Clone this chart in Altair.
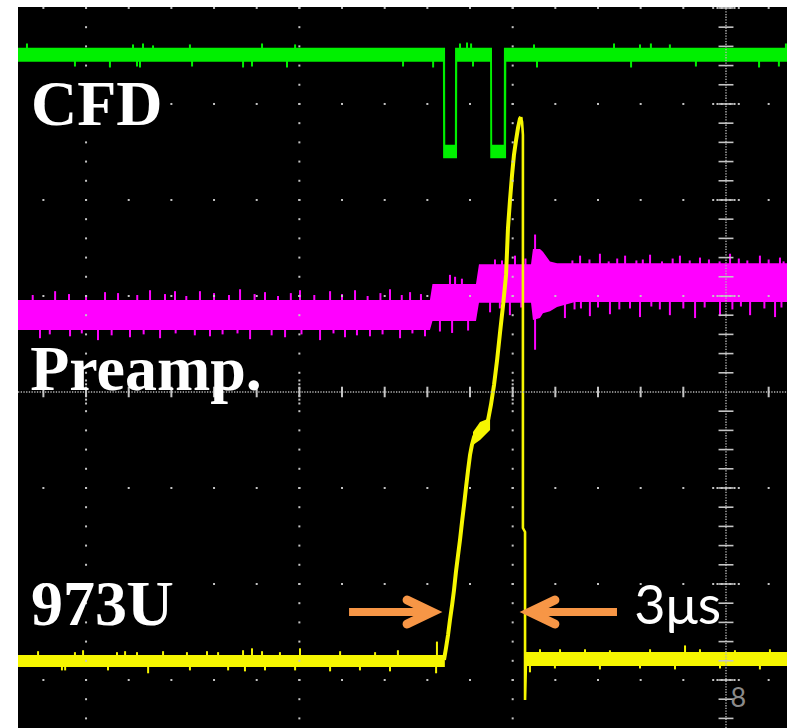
import altair as alt
import numpy as np
import pandas as pd

# ---------------- data: screen divisions (x from centre vertical graticule, y from centre horizontal) ----------
X_DOMAIN = [-3.319, 0.286]
Y_DOMAIN = [-3.5, 4.01]

# CFD (green) trace: envelope of the noisy trace
cfd_x   = [-3.32, -1.327, -1.326, -1.317, -1.316, -1.271, -1.270, -1.261, -1.260,
           -1.106, -1.105, -1.097, -1.096, -1.042, -1.041, -1.031, -1.030, 0.29]
cfd_top = [3.585, 3.585, 3.585, 3.585, 2.575, 2.575, 3.585, 3.585, 3.585,
           3.585, 3.585, 3.585, 2.575, 2.575, 3.585, 3.585, 3.585, 3.585]
cfd_bot = [3.44, 3.44, 2.435, 2.435, 2.435, 2.435, 2.435, 2.435, 3.44,
           3.44, 2.435, 2.435, 2.435, 2.435, 2.435, 2.435, 3.44, 3.44]
cfd_up_x   = [-3.277, -2.780, -2.733, -2.686, -2.513, -2.175, -2.020, -1.247, -1.214, -1.195,
              -0.900, -0.525, -0.403, -0.352, -0.263, 0.281]
cfd_up_tip = [3.63, 3.62, 3.63, 3.61, 3.62, 3.63, 3.62, 3.63, 3.64, 3.63,
              3.62, 3.63, 3.62, 3.63, 3.62, 3.63]
cfd_dn_x   = [-3.052, -2.888, -2.761, -2.747, -2.503, -2.264, -2.222, -2.058, -1.514, -1.373,
              -1.186, -0.886, -0.445, -0.141, 0.155, 0.248]
cfd_dn_tip = [3.39, 3.38, 3.39, 3.38, 3.39, 3.38, 3.39, 3.38, 3.39, 3.38,
              3.39, 3.38, 3.38, 3.39, 3.38, 3.39]

# Preamp (magenta) trace envelope
pre_x   = [-3.32, -1.388, -1.376, -1.172, -1.158, -0.914, -0.905, -0.872, -0.858, -0.825,
           -0.792, -0.708, 0.29]
pre_top = [0.958, 0.958, 1.125, 1.125, 1.33, 1.33, 1.49, 1.49, 1.46, 1.36,
           1.34, 1.34, 1.34]
pre_bot = [0.646, 0.646, 0.74, 0.74, 0.93, 0.93, 0.75, 0.77, 0.82, 0.84,
           0.885, 0.9375, 0.9375]
pre_up_x   = [-3.145, -2.911, -2.70, -2.583, -2.466, -2.278, -2.161, -1.997, -1.856, -1.739,
              -1.575, -1.481, -1.294, -1.270, -1.238, -1.083, -0.989, -0.684, -0.591, -0.473,
              -0.356, -0.216, -0.122, 0.019, 0.159, 0.253, -0.895,
              -3.25, -3.08, -3.00, -2.85, -2.76, -2.63, -2.53, -2.40, -2.33, -2.21,
              -2.10, -2.04, -1.93, -1.80, -1.68, -1.62, -1.52, -1.43,
              -1.05, -0.94, -0.72, -0.64, -0.55, -0.51, -0.42, -0.39, -0.30, -0.25,
              -0.17, -0.08, -0.03, 0.06, 0.10, 0.20, 0.27]
pre_up_tip = [1.05, 1.04, 1.06, 1.05, 1.05, 1.07, 1.04, 1.06, 1.05, 1.06,
              1.07, 1.04, 1.22, 1.20, 1.18, 1.38, 1.42, 1.42, 1.44, 1.42,
              1.43, 1.42, 1.40, 1.44, 1.42, 1.40, 1.64,
              1.01, 1.02, 1.00, 1.03, 1.01, 1.02, 1.00, 1.03, 1.01, 1.02,
              1.00, 1.03, 1.01, 1.02, 1.00, 1.03, 1.01, 1.02,
              1.37, 1.39, 1.37, 1.38, 1.36, 1.39, 1.37, 1.38, 1.36, 1.39,
              1.37, 1.38, 1.36, 1.39, 1.37, 1.38, 1.36]
pre_dn_x   = [-3.216, -3.075, -2.944, -2.794, -2.653, -2.419, -2.231, -2.067, -1.903, -1.786,
              -1.669, -1.528, -1.411, -1.341, -1.284, -1.209, -1.106, -1.013, -0.895, -0.755,
              -0.638, -0.544, -0.403, -0.263, -0.145, -0.028, 0.113, 0.230,
              -3.17, -3.02, -2.88, -2.73, -2.58, -2.49, -2.36, -2.29, -2.13, -1.99,
              -1.84, -1.73, -1.61, -1.47,
              -1.06, -0.96, -0.71, -0.68, -0.60, -0.50, -0.45, -0.35, -0.31, -0.20,
              -0.10, 0.03, 0.07, 0.18, 0.26]
pre_dn_tip = [0.56, 0.58, 0.54, 0.57, 0.56, 0.58, 0.55, 0.57, 0.54, 0.57,
              0.58, 0.56, 0.58, 0.63, 0.615, 0.64, 0.83, 0.80, 0.44, 0.77,
              0.79, 0.81, 0.78, 0.80, 0.77, 0.79, 0.80, 0.78,
              0.60, 0.61, 0.59, 0.60, 0.61, 0.59, 0.60, 0.61, 0.59, 0.60,
              0.61, 0.59, 0.60, 0.61,
              0.87, 0.88, 0.86, 0.87, 0.88, 0.86, 0.87, 0.89, 0.86, 0.87,
              0.88, 0.86, 0.89, 0.87, 0.88]

# 973U (yellow) trace: baselines + shoulder blob, and the pulse itself
yel_band_seg = ["a", "a", "b", "b", "b", "c", "c"]
yel_band_x   = [-3.32, -1.318, -1.186, -1.153, -1.106, -0.940, 0.29]
yel_band_top = [-2.74, -2.74, -0.417, -0.3125, -0.271, -2.708, -2.708]
yel_band_bot = [-2.865, -2.865, -0.552, -0.50, -0.396, -2.854, -2.854]
pulse_x = [-1.322, -1.3125, -1.303, -1.294, -1.284, -1.275, -1.266, -1.256, -1.247, -1.2375,
           -1.228, -1.219, -1.209, -1.200, -1.191, -1.181, -1.167, -1.144, -1.120, -1.111,
           -1.102, -1.0875, -1.073, -1.059, -1.045, -1.031, -1.022, -1.0125, -1.003, -0.994,
           -0.984, -0.975, -0.966, -0.961, -0.956, -0.952, -0.952, -0.942, -0.942, -0.9375]
pulse_y = [-2.79, -2.667, -2.531, -2.375, -2.219, -2.0625, -1.875, -1.698, -1.542, -1.354,
           -1.177, -1.0, -0.8125, -0.656, -0.552, -0.469, -0.406, -0.375, -0.344, -0.240,
           -0.135, 0.073, 0.333, 0.625, 0.906, 1.219, 1.708, 2.0, 2.26, 2.469,
           2.625, 2.75, 2.844, 2.865, 2.8125, 2.677, -1.417, -1.458, -3.208, -2.79]
PEAK = 33  # index of the pulse maximum: rising edge before, falling edge after
yel_up_x   = [-3.225, -3.052, -3.014, -2.855, -2.817, -2.761, -2.639, -2.527, -2.433, -2.381,
              -2.264, -2.222, -2.175, -2.091, -1.997, -1.809, -1.645, -1.538, -1.355, -0.872,
              -0.778, -0.661, -0.544, -0.192, -0.356, -0.122, 0.042, 0.206]
yel_up_tip = [-2.70, -2.71, -2.69, -2.71, -2.70, -2.71, -2.70, -2.71, -2.70, -2.71,
              -2.69, -2.67, -2.70, -2.71, -2.67, -2.70, -2.71, -2.69, -2.60, -2.68,
              -2.68, -2.68, -2.69, -2.64, -2.68, -2.68, -2.69, -2.68]
yel_dn_x   = [-3.113, -3.098, -2.897, -2.709, -2.513, -2.334, -2.255, -2.161, -2.020, -1.856,
              -1.716, -1.575, -1.359, -0.919, -0.802, -0.591, -0.403, -0.239, -0.028, 0.159]
yel_dn_tip = [-2.90, -2.90, -2.90, -2.93, -2.90, -2.90, -2.91, -2.90, -2.90, -2.91,
              -2.90, -2.91, -2.93, -2.92, -2.88, -2.89, -2.88, -2.89, -2.88, -2.89]

# orange "3 µs" arrows
shaft_x1 = [-1.767, -0.909]
shaft_x2 = [-1.388, -0.511]
shaft_y  = [-2.292, -2.292]
head_id = ["L", "L", "L", "R", "R", "R"]
head_x  = [-1.495, -1.378, -1.495, -0.802, -0.919, -0.802]
head_y  = [-2.167, -2.292, -2.417, -2.167, -2.292, -2.417]

# labels
serif_labels = ["CFD", "Preamp.", "973U"]
serif_lx     = [-3.258, -3.262, -3.258]
serif_ly     = [2.781, 0.021, -2.427]
time_label, time_lx, time_ly = "3μs", -0.430, -2.417
page_label, page_lx, page_ly = "8", 0.021, -3.281

# graticule positions (divisions)
row_Y = [4, 3, 2, 1, -1, -2, -3]
col_X = [-3, -2, -1]
minor_X = [round(v, 2) for v in np.arange(-3.2, 0.21, 0.2)]
minor_Y = [round(v, 2) for v in np.arange(-3.4, 4.01, 0.2)]
near_axis = [-0.06, -0.04, -0.02, 0.02, 0.04, 0.06]
near_axis_y = [-0.12, -0.08, -0.04, 0.04, 0.08, 0.12]

# ---------------- chart ----------------
xs = alt.Scale(domain=X_DOMAIN, nice=False, zero=False)
ys = alt.Scale(domain=Y_DOMAIN, nice=False, zero=False)


def X(f):
    return alt.X(f, type="quantitative", scale=xs, axis=None)


def Y(f):
    return alt.Y(f, type="quantitative", scale=ys, axis=None)


GREEN, MAGENTA, YELLOW, ORANGE = "#00f000", "#ff00ff", "#f6f600", "#f79646"


def band(x, top, bot, color, seg=None):
    df = pd.DataFrame({"x": x, "top": top, "bot": bot})
    enc = dict(x=X("x"), y=Y("top"), y2=alt.Y2("bot"))
    if seg is not None:
        df["seg"] = seg
        enc["detail"] = alt.Detail("seg:N")
    return alt.Chart(df).mark_area(color=color, interpolate="linear", clip=True).encode(**enc)


def spikes(xv, tips, base_top, base_bot, base_x, color):
    xv = np.array(xv)
    base = (np.interp(xv, base_x, base_top) + np.interp(xv, base_x, base_bot)) / 2
    df = pd.DataFrame({"x": xv, "tip": tips, "base": base})
    return alt.Chart(df).mark_rule(color=color, strokeWidth=2, clip=True).encode(
        x=X("x"), y=Y("base"), y2=alt.Y2("tip"))


green = alt.layer(
    band(cfd_x, cfd_top, cfd_bot, GREEN),
    spikes(cfd_up_x, cfd_up_tip, [3.585, 3.585], [3.44, 3.44], [-4, 1], GREEN),
    spikes(cfd_dn_x, cfd_dn_tip, [3.585, 3.585], [3.44, 3.44], [-4, 1], GREEN),
)

magenta = alt.layer(
    band(pre_x, pre_top, pre_bot, MAGENTA),
    spikes(pre_up_x, pre_up_tip, pre_top, pre_bot, pre_x, MAGENTA),
    spikes(pre_dn_x, pre_dn_tip, pre_top, pre_bot, pre_x, MAGENTA),
)

yl_x = [-3.32, -1.318, -0.940, 0.29]
yl_top = [-2.74, -2.74, -2.708, -2.708]
yl_bot = [-2.865, -2.865, -2.854, -2.854]
rise_df = pd.DataFrame({"x": pulse_x[:PEAK + 1], "y": pulse_y[:PEAK + 1], "i": range(PEAK + 1)})
fall_df = pd.DataFrame({"x": pulse_x[PEAK:], "y": pulse_y[PEAK:], "i": range(len(pulse_x) - PEAK)})
yellow = alt.layer(
    band(yel_band_x, yel_band_top, yel_band_bot, YELLOW, seg=yel_band_seg),
    alt.Chart(rise_df).mark_line(color=YELLOW, strokeWidth=4, strokeJoin="miter", clip=True).encode(
        x=X("x"), y=Y("y"), order=alt.Order("i:Q")),
    alt.Chart(fall_df).mark_line(color=YELLOW, strokeWidth=2.6, strokeJoin="miter", clip=True).encode(
        x=X("x"), y=Y("y"), order=alt.Order("i:Q")),
    spikes(yel_up_x, yel_up_tip, yl_top, yl_bot, yl_x, YELLOW),
    spikes(yel_dn_x, yel_dn_tip, yl_top, yl_bot, yl_x, YELLOW),
)

# graticule
dots = [(x, y) for y in row_Y for x in minor_X] + [(x, y) for x in col_X for y in minor_Y]
dots += [(x, y) for y in row_Y for x in near_axis] + [(x, y) for x in col_X for y in near_axis_y]
dots_df = pd.DataFrame(dots, columns=["x", "y"])
GRID = "#c4c4c4"
grat_dots = alt.Chart(dots_df).mark_square(size=4, color=GRID, opacity=1, filled=True).encode(
    x=X("x"), y=Y("y"))
hline = alt.Chart(pd.DataFrame({"x": [X_DOMAIN[0]], "x2": [X_DOMAIN[1]], "y": [0]})).mark_rule(
    color="#b4b4b4", strokeWidth=1.4, strokeDash=[1.3, 1.4]).encode(x=X("x"), x2=alt.X2("x2"), y=Y("y"))
vline = alt.Chart(pd.DataFrame({"x": [0], "y": [Y_DOMAIN[0]], "y2": [Y_DOMAIN[1]]})).mark_rule(
    color="#b4b4b4", strokeWidth=1.4, strokeDash=[1.3, 1.4]).encode(x=X("x"), y=Y("y"), y2=alt.Y2("y2"))
hticks_df = pd.DataFrame({"x": [v for v in minor_X if abs(v) > 1e-6]})
hticks_df["y"], hticks_df["y2"] = -0.055, 0.055
hticks = alt.Chart(hticks_df).mark_rule(color=GRID, strokeWidth=2).encode(
    x=X("x"), y=Y("y"), y2=alt.Y2("y2"))
vticks_df = pd.DataFrame({"y": [v for v in minor_Y if abs(v) > 1e-6]})
vticks_df["x"], vticks_df["x2"] = -0.035, 0.035
vticks = alt.Chart(vticks_df).mark_rule(color=GRID, strokeWidth=1.6).encode(
    y=Y("y"), x=X("x"), x2=alt.X2("x2"))
graticule = alt.layer(hline, vline, hticks, vticks, grat_dots)

# arrows
shaft_df = pd.DataFrame({"x": shaft_x1, "x2": shaft_x2, "y": shaft_y})
shafts = alt.Chart(shaft_df).mark_rule(color=ORANGE, strokeWidth=8).encode(
    x=X("x"), x2=alt.X2("x2"), y=Y("y"))
head_df = pd.DataFrame({"id": head_id, "x": head_x, "y": head_y, "i": range(len(head_x))})
heads = alt.Chart(head_df).mark_line(color=ORANGE, strokeWidth=9, strokeCap="round",
                                     strokeJoin="miter").encode(
    x=X("x"), y=Y("y"), detail=alt.Detail("id:N"), order=alt.Order("i:Q"))

# labels
serif_df = pd.DataFrame({"t": serif_labels, "x": serif_lx, "y": serif_ly})
serif_text = alt.Chart(serif_df).mark_text(
    font="Liberation Serif", fontWeight="bold", fontSize=64, color="white",
    align="left", baseline="alphabetic").encode(x=X("x"), y=Y("y"), text="t:N")
time_text = alt.Chart(pd.DataFrame({"t": [time_label], "x": [time_lx], "y": [time_ly]})).mark_text(
    font="Lato", fontSize=54, color="white", align="left", baseline="alphabetic").encode(
    x=X("x"), y=Y("y"), text="t:N")
page_text = alt.Chart(pd.DataFrame({"t": [page_label], "x": [page_lx], "y": [page_ly]})).mark_text(
    font="Lato", fontSize=27, color="#8a8a8a", align="left", baseline="alphabetic").encode(
    x=X("x"), y=Y("y"), text="t:N")

chart = alt.layer(
    green, magenta, yellow, graticule, shafts, heads, serif_text, time_text, page_text
).properties(
    width=769, height=721,
    background="white",
    padding={"left": 18, "top": 7, "right": 0, "bottom": 0},
    autosize=alt.AutoSizeParams(type="none"),
).configure_view(fill="black", stroke="transparent", strokeWidth=0)

chart.save("out.html", embed_options={"renderer": "svg", "actions": False})
